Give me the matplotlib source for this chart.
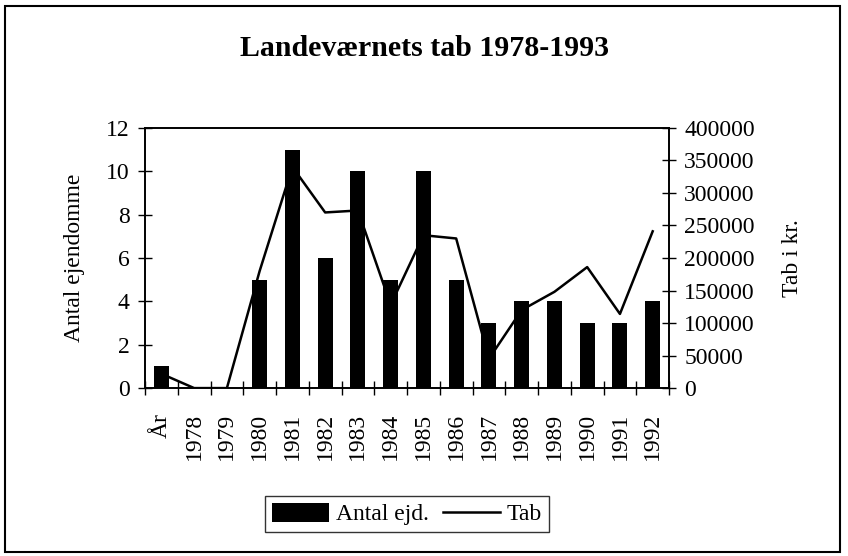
import matplotlib.pyplot as plt
from matplotlib.patches import Rectangle
import numpy as np

plt.rcParams['font.family'] = ['Liberation Serif', 'DejaVu Serif']

kategorier = ["År", "1978", "1979", "1980", "1981", "1982", "1983", "1984",
              "1985", "1986", "1987", "1988", "1989", "1990", "1991", "1992"]
antal_ejd = [1, 0, 0, 5, 11, 6, 10, 5, 10, 5, 3, 4, 4, 3, 3, 4]
tab = [22000, 0, 0, 180000, 340000, 270000, 273000, 128000, 235000, 230000,
       45000, 120000, 148000, 186000, 114000, 241000]

fig = plt.figure(figsize=(8.48, 5.56), dpi=100)
ax = fig.add_axes([0.171, 0.302, 0.618, 0.468])
ax2 = ax.twinx()

x = np.arange(len(kategorier))
bars = ax.bar(x, antal_ejd, width=0.46, color="black", zorder=2)
line, = ax2.plot(x, tab, color="black", lw=1.8, zorder=3)

ax.set_xlim(-0.5, len(kategorier) - 0.5)
ax.set_ylim(0, 12)
ax2.set_ylim(0, 400000)
ax.set_yticks(range(0, 13, 2))
ax2.set_yticks(range(0, 400001, 50000))

# linjen over soejlerne
ax.set_zorder(1)
ax2.set_zorder(2)
ax2.patch.set_visible(False)

fs = 17
ax.set_xticks(x)
ax.set_xticklabels(kategorier, rotation=90, fontsize=fs)
ax.tick_params(axis="x", length=0, pad=18)
ax.set_xticks(np.arange(-0.5, len(kategorier)), minor=True)
ax.tick_params(axis="x", which="minor", direction="inout", length=10, width=1)
ax.tick_params(axis="y", direction="inout", length=10, width=1, labelsize=fs, pad=6)
ax2.tick_params(axis="y", direction="inout", length=10, width=1, labelsize=fs, pad=6)

for a in (ax, ax2):
    for s in a.spines.values():
        s.set_linewidth(1.2)

ax.set_ylabel("Antal ejendomme", fontsize=fs)
ax.yaxis.set_label_coords(-0.115, 0.5)
ax2.set_ylabel("Tab i kr.", fontsize=fs)
ax2.yaxis.set_label_coords(1.215, 0.5)

fig.text(0.5, 0.913, "Landeværnets tab 1978-1993", ha="center", va="center",
         fontsize=21.5, fontweight="bold")

leg = fig.legend([bars, line], ["Antal ejd.", "Tab"], loc="center",
                 bbox_to_anchor=(0.48, 0.0755), ncol=2, fontsize=fs,
                 frameon=True, fancybox=False, edgecolor="black",
                 handlelength=2.4, handleheight=0.85, handletextpad=0.3,
                 columnspacing=0.6, borderpad=0.3)
leg.get_frame().set_linewidth(1.0)

fig.patches.append(Rectangle((0.006, 0.008), 0.985, 0.982, transform=fig.transFigure,
                             fill=False, edgecolor="black", linewidth=1.5))

fig.savefig("out.png", dpi=100)
